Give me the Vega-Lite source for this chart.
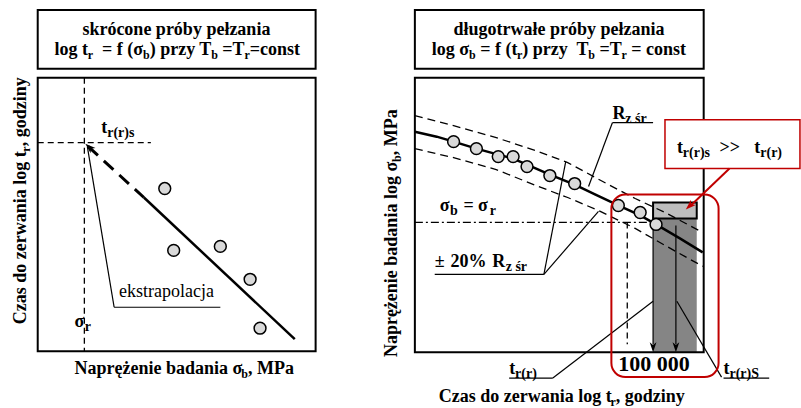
{
 "$schema": "https://vega.github.io/schema/vega-lite/v6.json",
 "width": 801, "height": 408,
 "autosize": {"type": "fit", "contains": "padding"},
 "padding": 0,
 "background": "white",
 "config": {"view": {"stroke": null}},
 "datasets": {
  "boxes": [
   {"x": 658, "y": 218, "x2": 702, "y2": 353, "k": "stipple"},
   {"x": 658, "y": 203, "x2": 702, "y2": 219, "k": "gray"},
   {"x": 38, "y": 10, "x2": 318, "y2": 69, "k": "frame"},
   {"x": 38, "y": 78, "x2": 318, "y2": 352, "k": "frame"},
   {"x": 418, "y": 10, "x2": 709, "y2": 69, "k": "frame"},
   {"x": 418, "y": 78, "x2": 709, "y2": 353, "k": "frame"},
   {"x": 616, "y": 195, "x2": 724, "y2": 378, "k": "redround"},
   {"x": 670, "y": 120, "x2": 806, "y2": 169, "k": "callout"}
  ],
  "segs": [
   {"x": 115, "y": 308, "x2": 222, "y2": 308, "k": "thin"},
   {"x": 115, "y": 308, "x2": 88, "y2": 147, "k": "thin"},
   {"x": 617, "y": 123, "x2": 658, "y2": 123, "k": "thin"},
   {"x": 617, "y": 123, "x2": 593, "y2": 187, "k": "thin"},
   {"x": 438, "y": 275, "x2": 548, "y2": 275, "k": "thin"},
   {"x": 548, "y": 275, "x2": 570, "y2": 162, "k": "thin"},
   {"x": 548, "y": 275, "x2": 603, "y2": 212, "k": "thin"},
   {"x": 513, "y": 379, "x2": 557, "y2": 379, "k": "thin"},
   {"x": 557, "y": 379, "x2": 658, "y2": 302, "k": "thin"},
   {"x": 729, "y": 379, "x2": 775, "y2": 379, "k": "thin"},
   {"x": 727, "y": 378, "x2": 682, "y2": 302, "k": "thin"},
   {"x": 658, "y": 220, "x2": 658, "y2": 345, "k": "thin"},
   {"x": 681, "y": 226, "x2": 681, "y2": 345, "k": "thin"},
   {"x": 85, "y": 78, "x2": 85, "y2": 352, "k": "dash"},
   {"x": 38, "y": 143, "x2": 152, "y2": 143, "k": "dash"},
   {"x": 632, "y": 223, "x2": 632, "y2": 345, "k": "dash"},
   {"x": 418, "y": 223, "x2": 657, "y2": 223, "k": "dashdot"},
   {"x": 89, "y": 147, "x2": 145, "y2": 198, "k": "thickdash"},
   {"x": 145, "y": 198, "x2": 297, "y2": 340, "k": "thick"},
   {"x": 735, "y": 169, "x2": 696, "y2": 206, "k": "red"}
  ],
  "curves": [
   {"c": "main", "x": 418, "y": 132}, {"c": "main", "x": 440, "y": 137}, {"c": "main", "x": 457, "y": 142},
   {"c": "main", "x": 480, "y": 149}, {"c": "main", "x": 502, "y": 155}, {"c": "main", "x": 517, "y": 159},
   {"c": "main", "x": 531, "y": 165}, {"c": "main", "x": 554, "y": 175}, {"c": "main", "x": 579, "y": 185},
   {"c": "main", "x": 600, "y": 195}, {"c": "main", "x": 623, "y": 206}, {"c": "main", "x": 645, "y": 216},
   {"c": "main", "x": 661, "y": 225}, {"c": "main", "x": 685, "y": 239}, {"c": "main", "x": 708, "y": 253},
   {"c": "up", "x": 418, "y": 116}, {"c": "up", "x": 457, "y": 126}, {"c": "up", "x": 500, "y": 138},
   {"c": "up", "x": 540, "y": 151}, {"c": "up", "x": 572, "y": 163}, {"c": "up", "x": 613, "y": 185},
   {"c": "up", "x": 640, "y": 199}, {"c": "up", "x": 670, "y": 213}, {"c": "up", "x": 708, "y": 233},
   {"c": "lo", "x": 418, "y": 149}, {"c": "lo", "x": 457, "y": 158}, {"c": "lo", "x": 500, "y": 170},
   {"c": "lo", "x": 540, "y": 186}, {"c": "lo", "x": 572, "y": 198}, {"c": "lo", "x": 603, "y": 211},
   {"c": "lo", "x": 640, "y": 229}, {"c": "lo", "x": 670, "y": 246}, {"c": "lo", "x": 708, "y": 267}
  ],
  "pts": [
   {"x": 166, "y": 189}, {"x": 175, "y": 251}, {"x": 222, "y": 247}, {"x": 252, "y": 280}, {"x": 262, "y": 329},
   {"x": 457, "y": 142}, {"x": 480, "y": 149}, {"x": 502, "y": 157}, {"x": 517, "y": 157}, {"x": 531, "y": 167},
   {"x": 554, "y": 176}, {"x": 579, "y": 184}, {"x": 623, "y": 206}, {"x": 645, "y": 213}, {"x": 661, "y": 225}
  ],
  "heads": [
   {"x": 86, "y": 144, "k": "ul"},
   {"x": 658, "y": 353, "k": "down"},
   {"x": 681, "y": 353, "k": "down"},
   {"x": 691, "y": 210, "k": "red"}
  ],
  "texts": [
   {"x": 83, "y": 35, "t": "skrócone próby pełzania", "r": "b"},
   {"x": 55, "y": 55, "t": "log t", "r": "b"},
   {"x": 88.5, "y": 55, "t": "r", "r": "s"},
   {"x": 102.8, "y": 55, "t": "= f (σ", "r": "b"},
   {"x": 144.1, "y": 55, "t": "b", "r": "s"},
   {"x": 150.8, "y": 55, "t": ") przy T", "r": "b"},
   {"x": 212.8, "y": 55, "t": "b", "r": "s"},
   {"x": 224, "y": 55, "t": "=T", "r": "b"},
   {"x": 246.3, "y": 55, "t": "r", "r": "s"},
   {"x": 251.6, "y": 55, "t": "=const", "r": "b"},
   {"x": 457, "y": 35, "t": "długotrwałe próby pełzania", "r": "b"},
   {"x": 435, "y": 55, "t": "log σ", "r": "b"},
   {"x": 472.6, "y": 55, "t": "b", "r": "s"},
   {"x": 483.8, "y": 55, "t": "= f (t", "r": "b"},
   {"x": 521, "y": 55, "t": "r", "r": "s"},
   {"x": 526.3, "y": 55, "t": ") przy", "r": "b"},
   {"x": 580.8, "y": 55, "t": "T", "r": "b"},
   {"x": 592.8, "y": 55, "t": "b", "r": "s"},
   {"x": 604, "y": 55, "t": "=T", "r": "b"},
   {"x": 626.3, "y": 55, "t": "r", "r": "s"},
   {"x": 636.1, "y": 55, "t": "= const", "r": "b"},
   {"x": 26, "y": 325, "t": "Czas do zerwania log t", "r": "vb"},
   {"x": 26, "y": 152, "t": "r", "r": "vs"},
   {"x": 26, "y": 146.7, "t": ", godziny", "r": "vb"},
   {"x": 75, "y": 375, "t": "Naprężenie badania σ", "r": "b"},
   {"x": 243.1, "y": 375, "t": "b", "r": "s"},
   {"x": 249.8, "y": 375, "t": ", MPa", "r": "b"},
   {"x": 400, "y": 358, "t": "Naprężenie badania log σ", "r": "vb"},
   {"x": 400, "y": 162.4, "t": "b", "r": "vs"},
   {"x": 400, "y": 155.7, "t": ", MPa", "r": "vb"},
   {"x": 442, "y": 403, "t": "Czas do zerwania log t", "r": "b"},
   {"x": 615, "y": 403, "t": "r", "r": "s"},
   {"x": 620.3, "y": 403, "t": ", godziny", "r": "b"},
   {"x": 102, "y": 133, "t": "t", "r": "b"},
   {"x": 108, "y": 133, "t": "r(r)s", "r": "s14"},
   {"x": 75, "y": 328, "t": "σ", "r": "b"},
   {"x": 85.5, "y": 328, "t": "r", "r": "s14"},
   {"x": 120, "y": 298, "t": "ekstrapolacja", "r": "reg"},
   {"x": 443, "y": 212, "t": "σ", "r": "b"},
   {"x": 453.5, "y": 212, "t": "b", "r": "s14"},
   {"x": 467, "y": 212, "t": "=", "r": "b"},
   {"x": 481.5, "y": 212, "t": "σ", "r": "b"},
   {"x": 493.5, "y": 212, "t": "r", "r": "s14"},
   {"x": 617, "y": 119, "t": "R", "r": "b"},
   {"x": 630, "y": 119, "t": "z śr", "r": "s14"},
   {"x": 438, "y": 268, "t": "±", "r": "b"},
   {"x": 454, "y": 268, "t": "20%", "r": "b"},
   {"x": 496, "y": 268, "t": "R", "r": "b"},
   {"x": 509.5, "y": 268, "t": "z śr", "r": "s14"},
   {"x": 513, "y": 375, "t": "t", "r": "b"},
   {"x": 519, "y": 375, "t": "r(r)", "r": "s14"},
   {"x": 623, "y": 372, "t": "100 000", "r": "big"},
   {"x": 729, "y": 375, "t": "t", "r": "b"},
   {"x": 735, "y": 375, "t": "r(r)S", "r": "s14"},
   {"x": 682, "y": 153, "t": "t", "r": "b"},
   {"x": 688, "y": 153, "t": "r(r)s", "r": "s14"},
   {"x": 725, "y": 153, "t": ">>", "r": "b"},
   {"x": 760, "y": 153, "t": "t", "r": "b"},
   {"x": 766, "y": 153, "t": "r(r)", "r": "s14"}
  ]
 },
 "encoding": {
  "x": {"field": "x", "type": "quantitative", "scale": {"domain": [0, 801], "nice": false, "zero": false}, "axis": null},
  "y": {"field": "y", "type": "quantitative", "scale": {"domain": [408, 0], "nice": false, "zero": false}, "axis": null}
 },
 "layer": [
  {"data": {"name": "boxes"}, "transform": [{"filter": "datum.k == 'stipple'"}],
   "mark": {"type": "rect", "fill": "#858585", "strokeWidth": 0},
   "encoding": {"x2": {"field": "x2"}, "y2": {"field": "y2"}}},
  {"data": {"name": "boxes"}, "transform": [{"filter": "datum.k == 'gray'"}],
   "mark": {"type": "rect", "fill": "#bdbdbd", "stroke": "black", "strokeWidth": 2},
   "encoding": {"x2": {"field": "x2"}, "y2": {"field": "y2"}}},
  {"data": {"name": "boxes"}, "transform": [{"filter": "datum.k == 'frame'"}],
   "mark": {"type": "rect", "filled": false, "color": "black", "strokeWidth": 2},
   "encoding": {"x2": {"field": "x2"}, "y2": {"field": "y2"}}},
  {"data": {"name": "segs"}, "transform": [{"filter": "datum.k == 'dash'"}],
   "mark": {"type": "rule", "color": "black", "strokeWidth": 1.3, "strokeDash": [6, 4]},
   "encoding": {"x2": {"field": "x2"}, "y2": {"field": "y2"}}},
  {"data": {"name": "segs"}, "transform": [{"filter": "datum.k == 'dashdot'"}],
   "mark": {"type": "rule", "color": "black", "strokeWidth": 1.3, "strokeDash": [8, 3, 2, 3]},
   "encoding": {"x2": {"field": "x2"}, "y2": {"field": "y2"}}},
  {"data": {"name": "segs"}, "transform": [{"filter": "datum.k == 'thickdash'"}],
   "mark": {"type": "rule", "color": "black", "strokeWidth": 3, "strokeDash": [13, 8]},
   "encoding": {"x2": {"field": "x2"}, "y2": {"field": "y2"}}},
  {"data": {"name": "segs"}, "transform": [{"filter": "datum.k == 'thick'"}],
   "mark": {"type": "rule", "color": "black", "strokeWidth": 2.5},
   "encoding": {"x2": {"field": "x2"}, "y2": {"field": "y2"}}},
  {"data": {"name": "curves"}, "transform": [{"filter": "datum.c != 'main'"}],
   "mark": {"type": "line", "color": "black", "strokeWidth": 1.3, "strokeDash": [8, 5]},
   "encoding": {"detail": {"field": "c"}}},
  {"data": {"name": "curves"}, "transform": [{"filter": "datum.c == 'main'"}],
   "mark": {"type": "line", "color": "black", "strokeWidth": 2.5},
   "encoding": {}},
  {"data": {"name": "segs"}, "transform": [{"filter": "datum.k == 'thin'"}],
   "mark": {"type": "rule", "color": "black", "strokeWidth": 1.2},
   "encoding": {"x2": {"field": "x2"}, "y2": {"field": "y2"}}},
  {"data": {"name": "pts"},
   "mark": {"type": "point", "shape": "circle", "filled": true, "fill": "#d9d9d9", "stroke": "black", "strokeWidth": 1.5, "size": 140, "opacity": 1},
   "encoding": {}},
  {"data": {"name": "boxes"}, "transform": [{"filter": "datum.k == 'redround'"}],
   "mark": {"type": "rect", "filled": false, "color": "#c00000", "strokeWidth": 2, "cornerRadius": 14},
   "encoding": {"x2": {"field": "x2"}, "y2": {"field": "y2"}}},
  {"data": {"name": "boxes"}, "transform": [{"filter": "datum.k == 'callout'"}],
   "mark": {"type": "rect", "fill": "white", "stroke": "#c00000", "strokeWidth": 1.5},
   "encoding": {"x2": {"field": "x2"}, "y2": {"field": "y2"}}},
  {"data": {"name": "segs"}, "transform": [{"filter": "datum.k == 'red'"}],
   "mark": {"type": "rule", "color": "#c00000", "strokeWidth": 2},
   "encoding": {"x2": {"field": "x2"}, "y2": {"field": "y2"}}},
  {"data": {"name": "heads"}, "transform": [{"filter": "datum.k == 'ul'"}],
   "mark": {"type": "point", "shape": "M0,0L0.55,1.6L0,1.15L-0.55,1.6Z", "filled": true, "color": "black", "size": 170, "angle": 312.5, "opacity": 1, "strokeWidth": 0},
   "encoding": {}},
  {"data": {"name": "heads"}, "transform": [{"filter": "datum.k == 'down'"}],
   "mark": {"type": "point", "shape": "M0,0L0.55,1.6L0,1.15L-0.55,1.6Z", "filled": true, "color": "black", "size": 150, "angle": 180, "opacity": 1, "strokeWidth": 0},
   "encoding": {}},
  {"data": {"name": "heads"}, "transform": [{"filter": "datum.k == 'red'"}],
   "mark": {"type": "point", "shape": "M0,0L0.55,1.6L0,1.15L-0.55,1.6Z", "filled": true, "color": "#c00000", "size": 170, "angle": 226.4, "opacity": 1, "strokeWidth": 0},
   "encoding": {}},
  {"data": {"name": "texts"}, "transform": [{"filter": "datum.r == 'b'"}],
   "mark": {"type": "text", "font": "Liberation Serif", "fontWeight": "bold", "fontSize": 18, "align": "left", "baseline": "alphabetic", "color": "black"},
   "encoding": {"text": {"field": "t"}}},
  {"data": {"name": "texts"}, "transform": [{"filter": "datum.r == 's'"}],
   "mark": {"type": "text", "font": "Liberation Serif", "fontWeight": "bold", "fontSize": 12, "align": "left", "baseline": "alphabetic", "dy": 4, "color": "black"},
   "encoding": {"text": {"field": "t"}}},
  {"data": {"name": "texts"}, "transform": [{"filter": "datum.r == 's14'"}],
   "mark": {"type": "text", "font": "Liberation Serif", "fontWeight": "bold", "fontSize": 14, "align": "left", "baseline": "alphabetic", "dy": 4, "color": "black"},
   "encoding": {"text": {"field": "t"}}},
  {"data": {"name": "texts"}, "transform": [{"filter": "datum.r == 'reg'"}],
   "mark": {"type": "text", "font": "Liberation Serif", "fontSize": 18, "align": "left", "baseline": "alphabetic", "color": "black"},
   "encoding": {"text": {"field": "t"}}},
  {"data": {"name": "texts"}, "transform": [{"filter": "datum.r == 'big'"}],
   "mark": {"type": "text", "font": "Liberation Serif", "fontWeight": "bold", "fontSize": 22, "align": "left", "baseline": "alphabetic", "color": "black"},
   "encoding": {"text": {"field": "t"}}},
  {"data": {"name": "texts"}, "transform": [{"filter": "datum.r == 'vb'"}],
   "mark": {"type": "text", "font": "Liberation Serif", "fontWeight": "bold", "fontSize": 18, "align": "left", "baseline": "alphabetic", "angle": 270, "color": "black"},
   "encoding": {"text": {"field": "t"}}},
  {"data": {"name": "texts"}, "transform": [{"filter": "datum.r == 'vs'"}],
   "mark": {"type": "text", "font": "Liberation Serif", "fontWeight": "bold", "fontSize": 12, "align": "left", "baseline": "alphabetic", "angle": 270, "dy": 4, "color": "black"},
   "encoding": {"text": {"field": "t"}}}
 ]
}
